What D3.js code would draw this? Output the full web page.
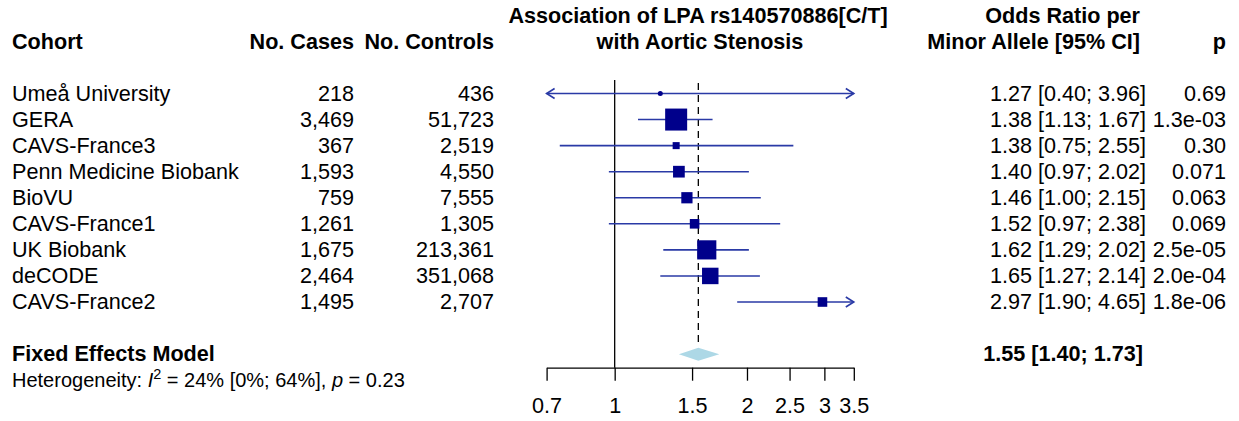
<!DOCTYPE html>
<html>
<head>
<meta charset="utf-8">
<script src="https://cdn.jsdelivr.net/npm/d3@7"></script>
<style>
  body { margin: 0; background: #fff; }
  svg { font-family: "Liberation Sans", Arial, sans-serif; }
</style>
</head>
<body>
<svg width="1239" height="421"></svg>
<script>
// study level data
var cohorts = ["Umeå University", "GERA", "CAVS-France3", "Penn Medicine Biobank", "BioVU",
  "CAVS-France1", "UK Biobank", "deCODE", "CAVS-France2"];
var cases = ["218", "3,469", "367", "1,593", "759", "1,261", "1,675", "2,464", "1,495"];
var controls = ["436", "51,723", "2,519", "4,550", "7,555", "1,305", "213,361", "351,068", "2,707"];
var oddsRatio = [1.27, 1.38, 1.38, 1.40, 1.46, 1.52, 1.62, 1.65, 2.97];
var lower = [0.40, 1.13, 0.75, 0.97, 1.00, 0.97, 1.29, 1.27, 1.90];
var upper = [3.96, 1.67, 2.55, 2.02, 2.15, 2.38, 2.02, 2.14, 4.65];
var pvals = ["0.69", "1.3e-03", "0.30", "0.071", "0.063", "0.069", "2.5e-05", "2.0e-04", "1.8e-06"];

// pooled estimate
var fixedOR = [1.55, 1.40, 1.73];
var tickVals = [0.7, 1, 1.5, 2, 2.5, 3, 3.5];

var svg = d3.select('svg');
var fs = 21.6;
var navy = "#00008b";
var lineCol = "#2a3aa6";

var x = d3.scaleLog().domain([0.7, 3.5]).range([546.6, 853.8]);
var y = d3.scaleLinear().domain([0, 8]).range([93.5, 302]);

// weights from CI width (inverse variance)
var weights = lower.map(function (l, i) {
  var se = (Math.log(upper[i]) - Math.log(l)) / (2 * 1.96);
  return 1 / (se * se);
});
var boxSize = d3.scaleSqrt().domain([0, d3.max(weights)]).range([0, 22]);

function txt(tx, ty, s, anchor, bold, size) {
  return svg.append('text')
    .attr('x', tx).attr('y', ty)
    .attr('dy', '0.34em')
    .attr('text-anchor', anchor || 'start')
    .attr('font-weight', bold ? 'bold' : 'normal')
    .attr('font-size', (size || fs) + 'px')
    .attr('fill', '#000')
    .text(s);
}

// headers
txt(12, y(-2), "Cohort", 'start', true);
txt(354, y(-2), "No. Cases", 'end', true);
txt(494, y(-2), "No. Controls", 'end', true);
txt(698, y(-3), "Association of LPA rs140570886[C/T]", 'middle', true);
txt(700, y(-2), "with Aortic Stenosis", 'middle', true);
txt(1140, y(-3), "Odds Ratio per", 'end', true);
txt(1140, y(-2), "Minor Allele [95% CI]", 'end', true);
txt(1226, y(-2), "p", 'end', true);

// table columns
cohorts.forEach(function (c, i) {
  txt(12, y(i), c, 'start');
  txt(354, y(i), cases[i], 'end');
  txt(494, y(i), controls[i], 'end');
  txt(1146, y(i), oddsRatio[i].toFixed(2) + " [" + lower[i].toFixed(2) + "; " + upper[i].toFixed(2) + "]", 'end');
  txt(1226, y(i), pvals[i], 'end');
});

txt(12, y(10), "Fixed Effects Model", 'start', true);
txt(1143, y(10), fixedOR[0].toFixed(2) + " [" + fixedOR[1].toFixed(2) + "; " + fixedOR[2].toFixed(2) + "]", 'end', true);

// heterogeneity line
var het = svg.append('text').attr('x', 12).attr('y', y(11)).attr('dy', '0.36em')
  .attr('font-size', '20px');
het.append('tspan').text("Heterogeneity: ");
het.append('tspan').attr('font-style', 'italic').text("I");
het.append('tspan').attr('font-size', '14.5px').attr('dy', '-0.6em').text("2");
het.append('tspan').attr('dy', '0.42em').text(" = 24% [0%; 64%], ");
het.append('tspan').attr('font-style', 'italic').text("p");
het.append('tspan').text(" = 0.23");

// reference lines
var axisY = 367.7;
svg.append('line')
  .attr('x1', x(1)).attr('x2', x(1))
  .attr('y1', 80).attr('y2', axisY)
  .attr('stroke', '#000').attr('stroke-width', 1.3);
svg.append('line')
  .attr('x1', x(fixedOR[0])).attr('x2', x(fixedOR[0]))
  .attr('y1', 83).attr('y2', 347)
  .attr('stroke', '#000').attr('stroke-width', 1.3)
  .attr('stroke-dasharray', '7,5');

// CI lines with arrows where clipped
var g = svg.append('g');
var lo = x.domain()[0], hi = x.domain()[1];
oddsRatio.forEach(function (o, i) {
  var x1 = x(Math.max(lower[i], lo));
  var x2 = x(Math.min(upper[i], hi));
  var yy = y(i);
  g.append('line')
    .attr('x1', x1).attr('x2', x2).attr('y1', yy).attr('y2', yy)
    .attr('stroke', lineCol).attr('stroke-width', 1.6);
  if (lower[i] < lo) {
    g.append('path')
      .attr('d', 'M' + (x1 + 8) + ',' + (yy - 5) + 'L' + x1 + ',' + yy + 'L' + (x1 + 8) + ',' + (yy + 5))
      .attr('fill', 'none').attr('stroke', lineCol).attr('stroke-width', 1.6);
  }
  if (upper[i] > hi) {
    g.append('path')
      .attr('d', 'M' + (x2 - 8) + ',' + (yy - 5) + 'L' + x2 + ',' + yy + 'L' + (x2 - 8) + ',' + (yy + 5))
      .attr('fill', 'none').attr('stroke', lineCol).attr('stroke-width', 1.6);
  }
});

// boxes (tiny ones drawn as dots, like the reference)
g.selectAll('.box').data(oddsRatio).enter().append('rect')
  .attr('class', 'box')
  .attr('x', function (d, i) { return x(d) - Math.max(boxSize(weights[i]), 5) / 2; })
  .attr('y', function (d, i) { return y(i) - Math.max(boxSize(weights[i]), 5) / 2; })
  .attr('width', function (d, i) { return Math.max(boxSize(weights[i]), 5); })
  .attr('height', function (d, i) { return Math.max(boxSize(weights[i]), 5); })
  .attr('rx', function (d, i) { return boxSize(weights[i]) < 5 ? 2.5 : 0; })
  .attr('fill', navy);

// diamond
var dy = y(10);
svg.append('path')
  .attr('d', 'M' + x(fixedOR[1]) + ',' + dy + 'L' + x(fixedOR[0]) + ',' + (dy - 6.5) +
    'L' + x(fixedOR[2]) + ',' + dy + 'L' + x(fixedOR[0]) + ',' + (dy + 6.5) + 'Z')
  .attr('fill', '#add8e6');

// axis
var axis = svg.append('g')
  .attr('transform', 'translate(0,' + axisY + ')')
  .call(d3.axisBottom(x).tickValues(tickVals).tickFormat(d3.format('')).tickSize(13).tickSizeOuter(0).tickPadding(17));
axis.select('.domain').attr('stroke-width', 1.3);
axis.selectAll('.tick line').attr('stroke-width', 1.3);
axis.selectAll('.tick text').attr('font-size', fs + 'px').attr('font-family', '"Liberation Sans", Arial, sans-serif').attr('fill', '#000');
</script>
</body>
</html>
